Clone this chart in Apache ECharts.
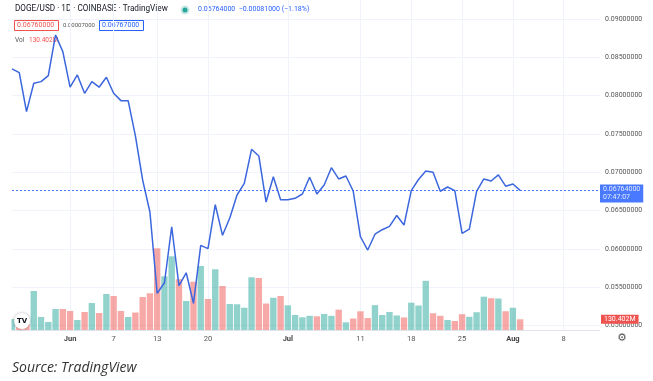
<!DOCTYPE html>
<html><head><meta charset="utf-8">
<script src="https://cdn.jsdelivr.net/npm/echarts@6.0.0/dist/echarts.min.js"></script>
<style>html,body{margin:0;padding:0;background:#fff}#c{width:653px;height:381px}</style>
</head><body><div id="c"></div>
<script>
// Daily categories 2022-05-24 .. 2022-08-13
const categories = [];
for (let d = new Date(Date.UTC(2022, 4, 24)), k = 0; k < 82; k++, d.setUTCDate(d.getUTCDate() + 1)) {
  categories.push(d.toISOString().slice(0, 10));
}
const tickDates = ['2022-06-01','2022-06-07','2022-06-13','2022-06-20','2022-07-01','2022-07-11','2022-07-18','2022-07-25','2022-08-01','2022-08-08'];
const tickTexts = ['Jun','7','13','20','Jul','11','18','25','Aug','8'];
const monthTicks = ['Jun','Jul','Aug'];

const price = [
  0.08349, 0.08300, 0.07791, 0.08162, 0.08183, 0.08261, 0.08792, 0.08574, 0.08110, 0.08270,
  0.08031, 0.08183, 0.08110, 0.08240, 0.08031, 0.07935, 0.07935, 0.07474, 0.06899, 0.06482,
  0.05420, 0.05559, 0.06290, 0.05522, 0.05689, 0.05290, 0.06047, 0.06005, 0.06577, 0.06178,
  0.06403, 0.06704, 0.06856, 0.07300, 0.07213, 0.06612, 0.06943, 0.06642, 0.06642, 0.06661,
  0.06717, 0.06935, 0.06717, 0.06834, 0.07060, 0.06913, 0.06952, 0.06756, 0.06159, 0.05986,
  0.06192, 0.06251, 0.06295, 0.06436, 0.06312, 0.06762, 0.06906, 0.07017, 0.07000, 0.06753,
  0.06808, 0.06760, 0.06204, 0.06260, 0.06752, 0.06913, 0.06886, 0.06967, 0.06819, 0.06847,
  0.06764
];
const volume = [
  134, 85, 73, 476, 159, 98, 256, 256, 232, 122,
  220, 329, 207, 439, 415, 232, 159, 213, 403, 448,
  997, 655, 899, 619, 354, 589, 781, 378, 741, 537,
  317, 314, 272, 643, 634, 323, 393, 415, 301, 183,
  155, 173, 167, 195, 173, 248, 94, 140, 228, 146,
  303, 183, 220, 177, 153, 333, 299, 600, 204, 173,
  122, 110, 193, 161, 217, 406, 388, 384, 229, 271,
  130.402
];
const volumeDir = [
  'U','D','D','U','U','U','U','D','D','U',
  'D','U','D','U','D','D','U','D','D','D',
  'D','U','U','D','U','D','U','D','U','D',
  'U','U','U','U','D','D','U','D','U','U',
  'U','U','D','U','U','D','U','D','D','D',
  'U','U','U','U','D','U','U','U','D','D',
  'U','D','D','U','U','U','D','U','D','U',
  'D'
];
const lastTime = '07:47:07';

const UP = 'rgba(38,166,154,0.5)', DOWN = 'rgba(239,83,80,0.5)';
const BLUE = '#2962ff', RED = '#ef5350', FONT = 'Roboto';
const lastPrice = price[price.length - 1];
const lastVol = volume[volume.length - 1];

const isTick = (i, v) => tickDates.indexOf(v) >= 0;

const chart = echarts.init(document.getElementById('c'), null, {renderer: 'canvas'});
chart.setOption({
  animation: false,
  backgroundColor: '#fff',
  textStyle: {fontFamily: FONT},
  grid: [
    {left: 12, right: 53, top: 0, bottom: 51},
    {left: 12, right: 53, top: 19, bottom: 55.4}
  ],
  xAxis: [
    {
      gridIndex: 0, type: 'category', data: categories, boundaryGap: false,
      axisLine: {show: true, lineStyle: {color: '#e0e3eb'}},
      axisTick: {show: false},
      axisLabel: {
        interval: isTick, margin: 5, fontSize: 7.5, color: '#555',
        formatter: v => {
          const t = tickTexts[tickDates.indexOf(v)];
          return monthTicks.indexOf(t) >= 0 ? '{m|' + t + '}' : t;
        },
        rich: {m: {fontWeight: 'bold', fontSize: 7.5, color: '#444'}}
      },
      splitLine: {show: true, interval: isTick, lineStyle: {color: '#f0f3fa', width: 1}}
    },
    {
      gridIndex: 1, type: 'category', data: categories, boundaryGap: false, show: false
    }
  ],
  yAxis: [
    {gridIndex: 0, type: 'value', min: 0, max: 4026, show: false, splitLine: {show: false}},
    {
      gridIndex: 1, type: 'value', position: 'right', min: 0.05, max: 0.09, interval: 0.005,
      axisLine: {show: false}, axisTick: {show: false},
      axisLabel: {formatter: v => v.toFixed(8), fontSize: 7, color: '#555', margin: 5},
      splitLine: {show: true, lineStyle: {color: '#f0f3fa', width: 1}}
    }
  ],
  series: [
    {
      type: 'bar', xAxisIndex: 0, yAxisIndex: 0, z: 2, clip: true,
      barCategoryGap: '12%',
      data: volume.map((v, i) => ({value: v, itemStyle: {color: volumeDir[i] === 'U' ? UP : DOWN}})),
      markLine: {
        silent: true, symbol: 'none', animation: false, precision: 8, z: 6,
        lineStyle: {color: 'rgba(0,0,0,0)', width: 1, type: 'solid'},
        label: {
          show: true, position: 'end', distance: 1, formatter: () => lastVol.toFixed(3) + 'M',
          backgroundColor: RED, color: '#fff', fontSize: 7, padding: [1, 3, 1, 3], fontFamily: FONT
        },
        data: [{yAxis: lastVol}]
      }
    },
    {
      type: 'line', xAxisIndex: 1, yAxisIndex: 1, z: 3,
      symbol: 'none', showSymbol: true,
      lineStyle: {color: '#3b66dd', width: 1.5},
      itemStyle: {color: '#3b66dd'},
      data: price.map((v, i) => i === price.length - 1 ? {value: v, symbol: 'circle', symbolSize: 4} : v),
      markLine: {
        silent: true, symbol: 'none', animation: false, precision: 8,
        lineStyle: {color: BLUE, type: [2, 2], width: 1, opacity: 0.85},
        label: {
          position: 'end', distance: 0, offset: [0, 3],
          formatter: () => lastPrice.toFixed(8) + '\n' + lastTime,
          backgroundColor: BLUE, color: '#fff', fontSize: 7, lineHeight: 8,
          padding: [1, 3, 1, 3], fontFamily: FONT
        },
        data: [{yAxis: lastPrice}]
      }
    }
  ],
  graphic: [
    {type: 'rect', z: 9, shape: {x: 0, y: 280, width: 11.5, height: 50}, style: {fill: '#fff'}},
    {type: 'text', left: 15, top: 5, style: {text: 'DOGE/USD · 1D · COINBASE · TradingView', fontSize: 8.2, fontFamily: FONT, fill: '#131722'}},
    {type: 'circle', shape: {cx: 185, cy: 10, r: 4.5}, style: {fill: 'rgba(38,166,154,0.25)'}},
    {type: 'circle', shape: {cx: 185, cy: 10, r: 2.5}, style: {fill: '#26a69a'}},
    {type: 'text', left: 198, top: 6, style: {text: '0.06764000  −0.00081000 (−1.18%)', fontSize: 7, fontFamily: FONT, fill: BLUE}},
    {type: 'rect', shape: {x: 14.5, y: 20.5, width: 44, height: 10}, style: {fill: '#fff', stroke: RED, lineWidth: 1}},
    {type: 'text', left: 17, top: 22, style: {text: '0.06760000', fontSize: 7, fontFamily: FONT, fill: RED}},
    {type: 'text', left: 63, top: 22.5, style: {text: '0.00007000', fontSize: 6, fontFamily: FONT, fill: '#555'}},
    {type: 'rect', shape: {x: 99.5, y: 20.5, width: 44, height: 10}, style: {fill: '#fff', stroke: BLUE, lineWidth: 1}},
    {type: 'text', left: 102, top: 22, style: {text: '0.06767000', fontSize: 7, fontFamily: FONT, fill: BLUE}},
    {type: 'text', left: 15, top: 37, style: {text: 'Vol', fontSize: 6.5, fontFamily: FONT, fill: '#555'}},
    {type: 'text', left: 29, top: 37, style: {text: '130.402M', fontSize: 6.5, fontFamily: FONT, fill: RED}},
    {type: 'circle', z: 10, shape: {cx: 22, cy: 321, r: 8}, style: {fill: '#fff', shadowBlur: 3, shadowColor: 'rgba(0,0,0,0.3)'}},
    {type: 'text', z: 11, x: 22, y: 321, style: {text: 'TV', fontSize: 7, fontWeight: 'bold', fontFamily: 'DejaVu Sans', fill: '#131722', align: 'center', verticalAlign: 'middle'}},
    {type: 'text', x: 622, y: 338, style: {text: '⚙', fontSize: 11, fontFamily: 'DejaVu Sans', fill: '#555', align: 'center', verticalAlign: 'middle'}},
    {type: 'text', left: 12, top: 361, style: {text: 'Source: TradingView', fontSize: 14, fontStyle: 'italic', fontFamily: 'Open Sans', fill: '#333'}}
  ]
});
</script>
</body></html>
